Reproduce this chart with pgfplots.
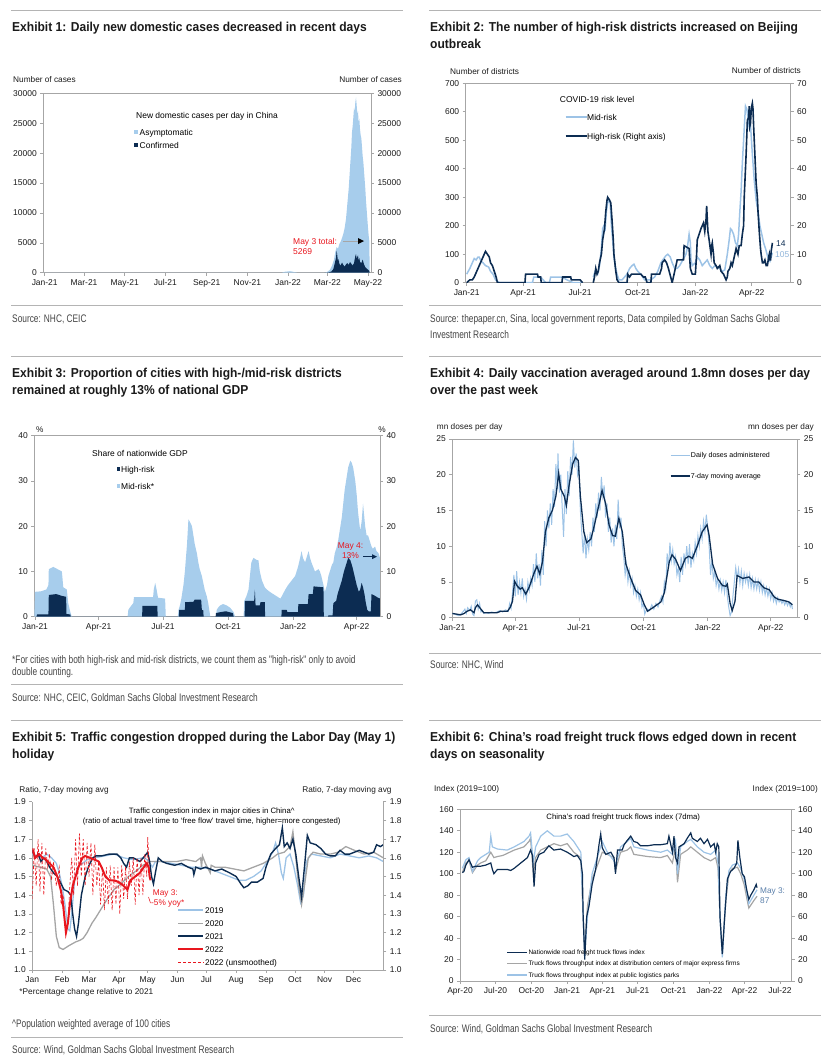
\documentclass[border=0pt]{standalone}
\usepackage{fontspec}
\setmainfont{Liberation Sans}
\newfontfamily\srcfont{Liberation Sans}[FakeStretch=0.76]
\newfontfamily\ttlfont{Liberation Sans}[FakeStretch=0.93]
\usepackage{pgfplots}
\pgfplotsset{compat=1.18}
\definecolor{navy}{HTML}{0C2C52}
\definecolor{lblue}{HTML}{A7CDEC}
\definecolor{lline}{HTML}{9DC3E6}
\definecolor{mgray}{HTML}{A5A5A5}
\definecolor{axgray}{HTML}{A6A6A6}
\definecolor{rulegray}{HTML}{B4B4B4}
\definecolor{gsred}{HTML}{E8161E}
\definecolor{steel}{HTML}{5A7FAA}
\definecolor{txt}{HTML}{1A1A1A}
\definecolor{srcc}{HTML}{444444}
\newcommand\ttl{\ttlfont\bfseries\fontsize{13}{15}\selectfont\color{txt}}
\newcommand\src{\srcfont\fontsize{11}{13}\selectfont\color{srcc}}
\newcommand\lab{\fontsize{8.3}{10}\selectfont\color{txt}}
\pgfplotsset{
  gsbase/.style={scale only axis, anchor=north west,
    axis line style={draw=axgray, line width=0.7bp},
    tick style={draw=axgray, line width=0.6bp},
    major tick length=3bp, tick align=outside,
    ticklabel style={font=\fontsize{8.5}{10}\selectfont, text=txt},
    /pgf/number format/assume math mode=true,
    /pgf/number format/1000 sep={},
    scaled ticks=false},
  gs/.style={gsbase, tick pos=left},
  gsr/.style={gsbase, axis x line=none, axis y line*=right, xtick=\empty},
}
\begin{document}
\begin{tikzpicture}
\useasboundingbox (0,0) rectangle (829bp,-1057bp);
\begin{scope}[x=1bp,y=-1bp]
% ---------- rules ----------
\draw[rulegray, line width=1bp] (11,10)--(403,10) (11,305)--(403,305);
\draw[rulegray, line width=1bp] (429,10)--(821,10) (429,305)--(821,305);
\draw[rulegray, line width=1bp] (11,356)--(403,356) (11,684.3)--(403,684.3);
\draw[rulegray, line width=1bp] (429,356)--(821,356) (429,653.3)--(821,653.3);
\draw[rulegray, line width=1bp] (11,720)--(403,720) (11,1037.3)--(403,1037.3);
\draw[rulegray, line width=1bp] (429,720)--(821,720) (429,1015)--(821,1015);
% ---------- titles ----------
\node[anchor=base west, inner sep=0] at (12,31.5) {\ttl Exhibit 1: Daily new domestic cases decreased in recent days};
\node[anchor=base west, inner sep=0] at (430,31.5) {\ttl Exhibit 2: The number of high-risk districts increased on Beijing};
\node[anchor=base west, inner sep=0] at (430,48.3) {\ttl outbreak};
\node[anchor=base west, inner sep=0] at (12,377.7) {\ttl Exhibit 3: Proportion of cities with high-/mid-risk districts};
\node[anchor=base west, inner sep=0] at (12,394.5) {\ttl remained at roughly 13\% of national GDP};
\node[anchor=base west, inner sep=0] at (430,377.7) {\ttl Exhibit 4: Daily vaccination averaged around 1.8mn doses per day};
\node[anchor=base west, inner sep=0] at (430,394.5) {\ttl over the past week};
\node[anchor=base west, inner sep=0] at (12,741.7) {\ttl Exhibit 5: Traffic congestion dropped during the Labor Day (May 1)};
\node[anchor=base west, inner sep=0] at (12,758.3) {\ttl holiday};
\node[anchor=base west, inner sep=0] at (430,741.7) {\ttl Exhibit 6: China’s road freight truck flows edged down in recent};
\node[anchor=base west, inner sep=0] at (430,758.3) {\ttl days on seasonality};
% ---------- sources ----------
\node[anchor=base west, inner sep=0] at (12,322) {\src Source: NHC, CEIC};
\node[anchor=base west, inner sep=0] at (430,322) {\src Source: thepaper.cn, Sina, local government reports, Data compiled by Goldman Sachs Global};
\node[anchor=base west, inner sep=0] at (430,338) {\src Investment Research};
\node[anchor=base west, inner sep=0] at (12,663.5) {\src *For cities with both high-risk and mid-risk districts, we count them as "high-risk" only to avoid};
\node[anchor=base west, inner sep=0] at (12,675) {\src double counting.};
\node[anchor=base west, inner sep=0] at (12,701.5) {\src Source: NHC, CEIC, Goldman Sachs Global Investment Research};
\node[anchor=base west, inner sep=0] at (430,668.5) {\src Source: NHC, Wind};
\node[anchor=base west, inner sep=0] at (12,1027) {\src \textasciicircum Population weighted average of 100 cities};
\node[anchor=base west, inner sep=0] at (12,1053.5) {\src Source: Wind, Goldman Sachs Global Investment Research};
\node[anchor=base west, inner sep=0] at (430,1032) {\src Source: Wind, Goldman Sachs Global Investment Research};
\node[anchor=base west, inner sep=0] at (19.3,994.5) {\lab *Percentage change relative to 2021};
% ---------- unit labels ----------
\node[anchor=base west, inner sep=0] at (13,82) {\lab Number of cases};
\node[anchor=base east, inner sep=0] at (402,82) {\lab Number of cases};
\node[anchor=base west, inner sep=0] at (450,74) {\lab Number of districts};
\node[anchor=base east, inner sep=0] at (801,73.5) {\lab Number of districts};
\node[anchor=base west, inner sep=0] at (36,432) {\lab \%};
\node[anchor=base east, inner sep=0] at (386,432) {\lab \%};
\node[anchor=base west, inner sep=0] at (436.7,429) {\lab mn doses per day};
\node[anchor=base east, inner sep=0] at (814,429) {\lab mn doses per day};
\node[anchor=base west, inner sep=0] at (19.3,792.3) {\lab Ratio, 7-day moving avg};
\node[anchor=base east, inner sep=0] at (391.7,792.3) {\lab Ratio, 7-day moving avg};
\node[anchor=base west, inner sep=0] at (434,791.7) {\lab Index (2019=100)};
\node[anchor=base east, inner sep=0] at (818,791.7) {\lab Index (2019=100)};
\end{scope}

% ================= Exhibit 1 =================
\begin{axis}[gs, at={(43.3bp,-93.3bp)}, width=327.7bp, height=179.4bp,
  xmin=-2.1, xmax=489.5, ymin=0, ymax=30000,
  ytick={0,5000,...,30000},
  xtick={0,59,120,181,243,304,365,424,485},
  xticklabels={Jan-21,Mar-21,May-21,Jul-21,Sep-21,Nov-21,Jan-22,Mar-22,May-22}]
\addplot[draw=none, fill=lblue] coordinates {(-2,0)(355,0)(360,150)(368,250)(375,100)(380,0)(420,0)(424,150)(428,500)(431,1200)(434,2200)(436,3500)(438,4300)(440,4000)(442,4800)(444,5200)(446,5800)(448,6500)(450,7500)(452,9000)(454,11500)(456,14000)(458,17500)(460,21000)(461,23500)(462,24500)(463,26000)(464,27500)(465,27000)(466,28500)(467,29300)(468,28000)(469,26500)(470,27000)(471,25000)(472,25800)(473,24000)(474,23000)(475,22500)(476,21000)(477,19500)(478,18500)(479,17000)(480,15500)(481,14000)(482,12000)(483,10500)(484,9000)(485,7500)(486,6200)(487,5269)(487.5,0)} \closedcycle;
\addplot[draw=none, fill=navy] coordinates {(420,0)(426,50)(430,200)(433,600)(435,1500)(437,2500)(438,3700)(439,2800)(440,1800)(441,2300)(442,1500)(444,1200)(446,1700)(448,1300)(450,1000)(452,1400)(454,1600)(456,1300)(458,1800)(460,1500)(462,1200)(464,1600)(466,2800)(467,3100)(468,2300)(469,2700)(470,2900)(471,2000)(472,2500)(473,1800)(475,1600)(477,2200)(479,1400)(481,900)(483,700)(485,500)(487,300)(487.5,0)} \closedcycle;
\end{axis}
\begin{axis}[gsr, at={(43.3bp,-93.3bp)}, width=327.7bp, height=179.4bp,
  xmin=0, xmax=1, ymin=0, ymax=30000, ytick={0,5000,...,30000}]
\end{axis}

% ================= Exhibit 2 =================
\begin{axis}[gs, at={(465.7bp,-83.3bp)}, width=325bp, height=199.4bp,
  xmin=-1.6, xmax=517.2, ymin=0, ymax=700, ytick={0,100,...,700},
  xtick={0,90,181,273,365,455},
  xticklabels={Jan-21,Apr-21,Jul-21,Oct-21,Jan-22,Apr-22}, unbounded coords=jump]
\addplot[lline, line width=1.5bp] coordinates {(0,30)(5,50)(9,70)(12,85)(15,80)(18,90)(20,90)(23,75)(26,70)(30,60)(35,55)(38,40)(42,30)(46,10)(52,0)(105,0)(107,20)(118,20)(126,0)(132,0)(134,20)(152,20)(160,10)(170,0)(185,0)(190,nan)(202,20)(205,40)(209,30)(212,60)(215,120)(217,190)(219,200)(221,190)(223,250)(225,280)(227,290)(229,280)(231,200)(233,150)(235,90)(237,60)(240,30)(243,10)(248,10)(252,20)(256,30)(260,50)(264,60)(267,65)(270,50)(273,40)(278,30)(284,10)(288,10)(294,10)(300,20)(305,40)(310,70)(313,80)(318,95)(321,100)(325,90)(328,70)(332,50)(336,50)(340,60)(345,80)(350,100)(352,120)(355,170)(357,140)(358,80)(360,60)(365,70)(368,90)(372,80)(376,60)(380,70)(384,80)(388,60)(392,50)(396,60)(400,55)(404,50)(408,40)(412,45)(416,100)(419,150)(421,190)(423,185)(426,170)(429,140)(432,130)(434,170)(436,250)(438,320)(440,420)(442,500)(444,580)(445,620)(447,610)(449,580)(450,560)(452,590)(454,520)(456,450)(459,360)(462,290)(465,250)(468,200)(471,170)(474,140)(477,120)(480,95)(482,80)(484,75)(486,90)(488,105)};
\end{axis}
\begin{axis}[gsr, at={(465.7bp,-83.3bp)}, width=325bp, height=199.4bp,
  xmin=-1.6, xmax=517.2, ymin=0, ymax=70, ytick={0,10,...,70}, unbounded coords=jump]
\addplot[navy, line width=1.6bp] coordinates {(0,0)(5,1)(9,1)(12,2)(16,4)(20,6)(24,8)(28,10)(30,11)(33,10)(36,9)(38,7)(41,6)(44,4)(47,2)(49,0)(93,0)(94,3)(113,3)(114,2)(118,2)(119,0)(152,0)(153,2)(166,2)(167,1)(181,1)(185,0)(190,nan)(202,0)(204,2)(206,5)(208,3)(210,4)(212,7)(215,10)(217,15)(220,19)(222,25)(224,29)(225,30)(228,29)(230,28)(232,22)(234,15)(235,10)(238,4)(240,1)(243,0)(256,0)(257,3)(260,2)(263,3)(267,3)(278,3)(282,2)(285,2)(288,0)(294,0)(295,3)(308,3)(311,5)(312,7)(316,8)(319,7)(322,5)(328,0)(330,2)(333,5)(336,8)(346,8)(347,13)(355,12)(357,5)(360,3)(365,3)(367,10)(368,15)(371,17)(374,19)(376,20)(378,21)(380,18)(382,22)(383,27)(385,18)(387,15)(390,10)(391,13)(392,14)(394,10)(395,7)(398,6)(400,5)(404,6)(406,4)(410,3)(414,1)(416,2)(417,4)(420,5)(422,7)(424,6)(427,9)(429,11)(430,12)(433,10)(435,13)(438,13)(440,17)(442,20)(443,30)(446,45)(448,57)(450,58)(451,62)(452,55)(453,56)(454,60)(455,62)(456,63)(457,61)(458,55)(460,45)(462,35)(464,30)(465,25)(467,18)(469,12)(470,10)(472,7)(474,7)(476,8)(478,6)(480,6)(482,9)(483,10)(484,8)(485,8)(486,11)(488,14)};
\end{axis}

% ================= Exhibit 3 =================
\begin{axis}[gs, at={(34.3bp,-435.7bp)}, width=345.7bp, height=181bp,
  xmin=-1, xmax=488, ymin=0, ymax=40, ytick={0,10,...,40},
  xtick={0,90,181,273,365,455},
  xticklabels={Jan-21,Apr-21,Jul-21,Oct-21,Jan-22,Apr-22}]
\addplot[draw=none, fill=lblue] coordinates {(-1,0)(0,5.5)(8,5.6)(16,6)(19,7)(19.5,10.5)(26,11)(32,10.5)(38,10)(40,6.5)(45,6)(47,3)(50,1)(52,0)(131,0)(132,1.5)(134,2)(139,3)(140,4.3)(167,4.3)(168,6)(170,7.5)(172,6)(174,4.2)(184,4)(185,0)(202,0)(203,1.5)(205,2.5)(207,4)(210,7)(212,10)(215,16)(217,21.5)(219,21)(222,20)(224,18)(226,16)(229,14)(231,12)(233,10.5)(236,9)(238,7.5)(240,6)(243,4.5)(245,3)(248,0)(256,0)(257,1.5)(259,2)(262,2.5)(266,2.8)(271,2.5)(276,2)(281,1)(283,0)(295,0)(296,3.5)(299,4.5)(302,6)(304,9)(306,12)(309,13)(311,12.8)(314,12.5)(316,12.5)(318,10)(321,8)(325,6.5)(328,6)(332,5.5)(337,5)(342,4.5)(347,4)(349,4.5)(354,6)(358,7)(363,8)(368,9)(370,10)(372,11)(375,13)(377,14.5)(379,13)(382,12)(384,13)(387,14.5)(389,13)(391,12)(396,10)(401,10.5)(403,10)(405,9)(408,7)(410,5.5)(413,7)(415,9)(417,10)(420,11.5)(422,12)(424,14)(427,15.5)(429,17)(431,19)(434,22)(436,25)(438,28)(441,31)(443,33)(446,34.5)(448,34)(450,33)(453,30)(455,27)(457,23)(460,19)(462,21)(464,25)(467,20)(469,18)(471,18)(474,16.5)(476,15.5)(478,15)(481,15.5)(483,14.5)(486,14)(488,13)} \closedcycle;
\addplot[draw=none, fill=navy] coordinates {(2,0)(3,0.5)(19,0.5)(19.5,4.8)(30,5)(38,4.6)(44,4.4)(44.5,0.6)(50,0.5)(50.5,0)(151.5,0)(152,2.4)(173,2.4)(173.5,0)(203.5,0)(204,1.5)(212,1.5)(212.5,3.2)(224,3.3)(226,3.8)(235,3.8)(236,1.5)(238,1.4)(238.5,0)(255.5,0)(256,0.8)(262,1.0)(270,1.2)(280,0.8)(281,0)(296.5,0)(297,3.5)(310,3.5)(311,6)(312,2.5)(318,2.5)(319,3.2)(325,3.2)(325.5,0)(348.5,0)(349,1.5)(356,1.5)(357,1.0)(372,1.0)(372.5,2.8)(386,2.8)(387,5)(393,5)(394,6.7)(408,6.5)(408.5,0)(414.5,0)(415,0.3)(421,0.3)(422,3)(426,3.5)(428,5)(431,6.5)(434,8)(437,10)(440,11.5)(443,13)(446,12.5)(449,11)(452,9)(455,7)(458,5.5)(460,6)(462,7.5)(464,6.5)(466,5)(468,3)(470,1.5)(472,1.2)(475,1.2)(476,5)(480,4.7)(484,4.3)(488,4)(488.5,0)} \closedcycle;
\end{axis}
\begin{axis}[gsr, at={(34.3bp,-435.7bp)}, width=345.7bp, height=181bp,
  xmin=0, xmax=1, ymin=0, ymax=40, ytick={0,10,...,40}]
\end{axis}

% ================= Exhibit 4 =================
\begin{axis}[gs, at={(452.3bp,-439bp)}, width=345bp, height=178.7bp,
  xmin=0, xmax=493, ymin=0, ymax=25, ytick={0,5,...,25},
  xtick={0,90,181,273,365,455},
  xticklabels={Jan-21,Apr-21,Jul-21,Oct-21,Jan-22,Apr-22}]
\addplot[lline, line width=1bp] coordinates {(0,0.6)(3,0.5)(6,0.4)(9,0.3)(12,0.5)(15,0.8)(18,1.2)(20,0.6)(22,1.4)(25,1.0)(27,1.6)(29,0.5)(31,0.3)(33,2.3)(35,2.5)(37,1.2)(39,2.0)(41,0.8)(43,1.0)(45,0.6)(48,0.7)(52,0.6)(56,0.8)(60,0.7)(64,0.8)(68,1.0)(72,0.8)(76,1.1)(80,0.9)(82,2.0)(84,1.3)(86,3.5)(88,6.0)(90,3.0)(92,6.5)(94,3.2)(96,5.0)(98,3.5)(100,5.5)(102,3.0)(104,4.0)(106,2.6)(108,5.0)(110,3.8)(112,5.5)(114,4.5)(116,7.5)(118,5.0)(120,9.0)(122,5.5)(124,7.5)(126,4.5)(128,9.5)(130,6.0)(132,13.5)(134,10.0)(136,15.0)(138,12.5)(140,16.0)(142,13.0)(144,18.0)(146,15.5)(148,21.5)(150,18.0)(151,23.0)(153,17.5)(155,20.0)(157,15.5)(159,11.3)(161,18.0)(163,14.5)(165,20.5)(167,17.0)(169,22.5)(171,20.0)(173,24.8)(175,21.0)(177,23.0)(179,20.0)(181,21.0)(183,15.0)(185,12.0)(187,9.0)(189,12.0)(191,8.3)(193,11.0)(195,9.5)(197,12.0)(199,10.0)(201,14.0)(203,12.0)(205,16.0)(207,14.0)(209,17.5)(211,15.0)(213,19.7)(215,17.0)(217,18.5)(219,14.0)(221,16.0)(223,12.0)(225,14.0)(227,10.5)(229,12.5)(231,10.0)(233,13.0)(235,11.0)(237,16.5)(239,12.5)(241,14.0)(243,10.0)(245,8.5)(247,6.0)(249,7.5)(251,5.0)(253,6.5)(255,4.5)(257,5.5)(259,3.5)(261,4.5)(263,3.0)(265,4.0)(267,2.5)(269,3.5)(271,1.5)(273,2.0)(275,0.5)(277,1.0)(279,1.2)(282,1.0)(285,1.8)(288,1.2)(291,2.0)(294,1.5)(297,2.5)(299,3.0)(301,2.2)(303,5.0)(305,4.0)(307,9.0)(309,7.0)(311,10.5)(313,8.0)(315,9.5)(317,7.5)(319,8.5)(321,6.0)(323,7.0)(325,5.0)(327,8.5)(329,6.0)(331,9.0)(333,7.5)(335,10.0)(337,7.5)(339,10.3)(341,7.0)(343,9.0)(345,8.0)(347,10.5)(349,9.0)(351,11.5)(353,10.0)(355,12.5)(357,11.0)(359,13.5)(361,12.0)(363,14.4)(365,12.5)(367,10.0)(369,6.0)(371,8.0)(373,5.5)(375,6.5)(377,4.5)(379,5.5)(381,4.0)(383,5.2)(385,3.8)(387,5.0)(389,3.5)(391,5.3)(393,3.0)(395,1.5)(397,0.3)(399,0.8)(401,3.0)(403,5.0)(405,7.0)(407,5.5)(409,6.8)(411,4.8)(413,6.5)(415,4.5)(417,6.2)(419,5.0)(421,6.0)(423,4.5)(425,6.0)(427,4.2)(429,5.5)(431,4.0)(433,5.3)(435,4.0)(437,5.2)(439,3.8)(441,5.0)(443,3.5)(445,4.5)(447,3.2)(449,4.2)(451,3.0)(453,4.0)(455,2.6)(457,3.5)(459,2.3)(461,3.0)(463,2.0)(465,2.8)(467,2.2)(469,2.5)(471,2.0)(473,2.4)(475,1.8)(477,2.3)(479,1.7)(481,2.2)(483,1.5)(485,1.9)(486,1.2)};
\addplot[navy, line width=1.3bp] coordinates {(0,0.6)(12,0.4)(17,0.6)(21,0.9)(26,1.1)(31,0.7)(33,1.4)(36,1.8)(40,1.3)(45,0.7)(64,0.7)(69,0.9)(79,0.9)(83,1.5)(86,2.3)(89,5.1)(93,4.4)(97,4.0)(100,4.2)(105,3.3)(110,4.3)(117,6.3)(121,7.2)(125,6.1)(129,7.9)(133,12)(138,14)(143,15.0)(148,17)(152,20.2)(155,18)(160,17)(163,15.7)(167,18.6)(172,21.5)(176,22.4)(180,22.0)(183,17)(188,12)(192,10.5)(198,11)(202,12.5)(210,16)(214,17.8)(219,16)(224,13)(229,11.5)(233,11.4)(238,13.9)(243,12)(248,7.5)(255,5.5)(262,3.8)(269,3.2)(274,1.9)(279,0.9)(288,1.5)(298,2.2)(303,3.5)(310,7.8)(314,8.8)(319,8.2)(326,6.6)(333,8.3)(338,8.6)(343,8.3)(350,10)(357,12)(364,13)(367,11.5)(372,7.5)(379,5.5)(386,4.5)(391,4.4)(393,4.7)(397,2.0)(400,1.0)(404,2.3)(407,5.9)(415,5.5)(424,5.7)(431,5.0)(438,5.0)(445,4.2)(453,3.9)(460,2.9)(465,2.6)(474,2.4)(481,2.2)(486,1.8)};
\end{axis}
\begin{axis}[gsr, at={(452.3bp,-439bp)}, width=345bp, height=178.7bp,
  xmin=0, xmax=1, ymin=0, ymax=25, ytick={0,5,...,25}]
\end{axis}

% ================= Exhibit 5 =================
\begin{axis}[gsbase, tick pos=left, axis x line*=bottom, axis y line*=left,
  at={(32.3bp,-801.7bp)}, width=351bp, height=168.3bp,
  xmin=0, xmax=365, ymin=1, ymax=1.9,
  ytick={1,1.1,1.2,1.3,1.4,1.5,1.6,1.7,1.8,1.9},
  yticklabel style={/pgf/number format/.cd, fixed, fixed zerofill, precision=1},
  xtick={0,31,59,90,120,151,181,212,243,273,304,334},
  xticklabels={Jan,Feb,Mar,Apr,May,Jun,Jul,Aug,Sep,Oct,Nov,Dec}]
\addplot[lline, line width=1.3bp] coordinates {(0,1.62)(5,1.61)(10,1.60)(15,1.62)(20,1.60)(25,1.57)(28,1.52)(31,1.45)(34,1.35)(37,1.22)(39,1.21)(41,1.30)(44,1.48)(47,1.55)(52,1.57)(57,1.59)(65,1.60)(75,1.61)(85,1.62)(95,1.60)(105,1.59)(115,1.60)(120,1.59)(125,1.55)(128,1.58)(135,1.58)(145,1.57)(155,1.56)(165,1.55)(175,1.55)(185,1.54)(195,1.52)(205,1.50)(215,1.48)(222,1.48)(230,1.50)(238,1.53)(243,1.57)(250,1.63)(253,1.68)(256,1.62)(259,1.52)(261,1.49)(264,1.60)(268,1.62)(272,1.55)(276,1.45)(279,1.36)(282,1.40)(285,1.58)(290,1.62)(300,1.61)(310,1.60)(320,1.62)(330,1.61)(340,1.60)(350,1.61)(358,1.60)(365,1.58)};
\addplot[mgray, line width=1.3bp] coordinates {(0,1.56)(8,1.55)(15,1.54)(19,1.50)(22,1.35)(25,1.18)(28,1.12)(32,1.11)(38,1.13)(45,1.15)(50,1.16)(53,1.17)(57,1.20)(62,1.25)(66,1.28)(72,1.33)(78,1.38)(85,1.43)(92,1.46)(100,1.50)(108,1.53)(115,1.56)(122,1.58)(130,1.58)(140,1.58)(150,1.58)(160,1.59)(170,1.58)(175,1.60)(176,1.55)(177,1.61)(180,1.57)(185,1.52)(186,1.56)(190,1.55)(200,1.55)(210,1.54)(220,1.53)(230,1.55)(240,1.57)(250,1.60)(255,1.62)(262,1.63)(268,1.66)(271,1.74)(274,1.60)(277,1.45)(280,1.35)(283,1.45)(287,1.60)(292,1.63)(300,1.62)(310,1.62)(318,1.63)(326,1.66)(335,1.64)(345,1.62)(355,1.63)(365,1.60)};
\addplot[navy, line width=1.4bp] coordinates {(0,1.64)(3,1.60)(6,1.62)(9,1.58)(12,1.60)(15,1.58)(18,1.55)(22,1.52)(26,1.50)(30,1.46)(33,1.43)(37,1.42)(40,1.40)(42,1.30)(44,1.22)(46,1.18)(48,1.25)(51,1.40)(55,1.50)(59,1.56)(63,1.60)(66,1.61)(72,1.61)(80,1.62)(88,1.62)(92,1.60)(95,1.57)(98,1.55)(101,1.60)(105,1.60)(112,1.58)(117,1.61)(120,1.63)(122,1.58)(124,1.50)(126,1.46)(128,1.52)(131,1.60)(135,1.58)(140,1.57)(148,1.56)(155,1.57)(162,1.55)(167,1.54)(168,1.51)(170,1.55)(175,1.54)(180,1.55)(185,1.54)(190,1.53)(197,1.54)(205,1.52)(212,1.50)(217,1.46)(220,1.44)(224,1.45)(228,1.47)(234,1.47)(240,1.49)(243,1.55)(248,1.62)(253,1.65)(257,1.67)(260,1.76)(262,1.66)(265,1.68)(268,1.65)(271,1.70)(274,1.62)(277,1.50)(280,1.39)(283,1.55)(286,1.72)(289,1.68)(295,1.67)(300,1.65)(305,1.62)(310,1.61)(315,1.61)(320,1.64)(325,1.62)(330,1.62)(335,1.63)(340,1.64)(345,1.63)(350,1.62)(355,1.63)(358,1.67)(362,1.66)(365,1.67)};
\addplot[gsred, line width=0.6bp, densely dashed] coordinates {(0,1.38)(2,1.65)(4,1.45)(6,1.7)(8,1.42)(10,1.68)(12,1.4)(14,1.65)(16,1.55)(18,1.62)(20,1.48)(22,1.58)(25,1.45)(28,1.55)(30,1.35)(32,1.4)(35,1.2)(37,1.25)(39,1.45)(41,1.6)(43,1.4)(45,1.7)(47,1.45)(49,1.73)(51,1.5)(53,1.7)(55,1.45)(57,1.68)(59,1.5)(61,1.68)(63,1.4)(65,1.67)(67,1.45)(69,1.58)(71,1.35)(73,1.55)(75,1.32)(77,1.55)(79,1.35)(81,1.56)(83,1.32)(85,1.55)(87,1.35)(89,1.55)(91,1.3)(93,1.56)(95,1.38)(97,1.55)(99,1.38)(101,1.58)(103,1.45)(105,1.6)(107,1.35)(109,1.6)(111,1.4)(113,1.6)(115,1.4)(117,1.62)(119,1.5)(120,1.71)(122,1.5)(123,1.48)};
\addplot[gsred, line width=2bp] coordinates {(0,1.65)(3,1.60)(7,1.62)(11,1.60)(14,1.59)(18,1.57)(22,1.55)(26,1.50)(30,1.42)(32,1.35)(34,1.25)(35,1.20)(37,1.25)(39,1.35)(42,1.45)(45,1.50)(48,1.55)(52,1.60)(55,1.61)(60,1.60)(65,1.59)(69,1.58)(72,1.55)(76,1.50)(80,1.48)(85,1.48)(90,1.47)(95,1.45)(99,1.43)(102,1.48)(107,1.50)(112,1.52)(116,1.55)(119,1.57)(121,1.55)(122,1.50)(123,1.48)};
\end{axis}
\begin{axis}[gsr, at={(32.3bp,-801.7bp)}, width=351bp, height=168.3bp,
  xmin=0, xmax=1, ymin=1, ymax=1.9,
  ytick={1,1.1,1.2,1.3,1.4,1.5,1.6,1.7,1.8,1.9},
  yticklabel style={/pgf/number format/.cd, fixed, fixed zerofill, precision=1}]
\end{axis}

% ================= Exhibit 6 =================
\begin{axis}[gs, at={(460bp,-809.3bp)}, width=331.7bp, height=171.7bp,
  xmin=0, xmax=851, ymin=0, ymax=160, ytick={0,20,...,160},
  xtick={0,91,183,275,365,456,548,640,730,821},
  xticklabels={Apr-20,Jul-20,Oct-20,Jan-21,Apr-21,Jul-21,Oct-21,Jan-22,Apr-22,Jul-22}]
\addplot[mgray, line width=1.2bp] coordinates {(6,101)(15,110)(23,112)(32,101)(45,108)(53,110)(66,112)(79,120)(87,115)(96,116)(110,117)(139,122)(164,125)(177,130)(181,133)(188,100)(194,115)(207,122)(224,125)(241,128)(258,126)(275,128)(292,120)(310,115)(316,60)(320,30)(327,70)(339,95)(357,112)(365,120)(378,118)(395,115)(399,103)(412,120)(429,122)(438,125)(446,118)(481,116)(515,115)(532,117)(545,110)(553,125)(558,92)(566,118)(583,122)(592,125)(609,120)(626,115)(643,112)(656,115)(662,105)(667,60)(673,25)(682,75)(690,100)(699,105)(712,106)(720,100)(729,90)(737,75)(741,68)(754,75)(762,79)};
\addplot[lline, line width=1.2bp] coordinates {(6,105)(15,113)(23,115)(32,102)(45,112)(53,115)(75,120)(79,135)(83,125)(96,123)(121,122)(139,125)(164,130)(177,135)(181,138)(188,110)(194,125)(207,135)(224,140)(241,135)(258,135)(275,137)(292,130)(310,120)(316,60)(320,25)(327,60)(339,100)(352,115)(365,130)(378,120)(395,112)(399,108)(412,125)(429,130)(438,133)(446,125)(481,122)(515,120)(532,122)(545,118)(553,130)(558,100)(566,125)(583,130)(592,132)(609,125)(626,120)(643,118)(656,122)(662,110)(667,60)(673,22)(682,80)(690,103)(699,108)(712,110)(720,105)(729,95)(737,80)(741,72)(754,80)(762,85)};
\addplot[navy, line width=1.2bp] coordinates {(6,101)(10,102)(15,108)(23,113)(27,110)(32,106)(40,107)(53,107)(66,108)(79,110)(83,104)(87,100)(96,104)(121,104)(130,103)(139,105)(156,110)(173,115)(181,122)(186,117)(190,88)(194,110)(203,118)(215,120)(228,126)(241,122)(258,123)(275,120)(284,118)(292,116)(301,117)(310,112)(314,100)(316,60)(320,20)(325,60)(331,70)(339,90)(348,104)(357,128)(361,137)(365,124)(374,118)(387,120)(395,115)(399,100)(404,122)(416,122)(421,127)(429,131)(438,135)(446,130)(455,129)(463,126)(481,126)(498,127)(515,127)(532,128)(536,135)(545,120)(549,135)(553,115)(558,110)(562,125)(575,128)(583,133)(592,138)(596,133)(609,130)(617,133)(626,128)(635,132)(643,125)(652,128)(656,120)(660,128)(664,125)(667,60)(673,25)(679,60)(686,95)(694,102)(703,105)(710,110)(713,131)(718,115)(724,100)(730,97)(735,86)(741,76)(746,80)(754,85)(760,90)(762,87)};
\end{axis}
\begin{axis}[gsr, at={(460bp,-809.3bp)}, width=331.7bp, height=171.7bp,
  xmin=0, xmax=1, ymin=0, ymax=160, ytick={0,20,...,160}]
\end{axis}

% ---------- legends and annotations ----------
\begin{scope}[x=1bp,y=-1bp]
% Ex1
\node[anchor=base west, inner sep=0] at (136,118) {\fontsize{8.5}{10}\selectfont New domestic cases per day in China};
\fill[lblue] (134.3,130.2) rectangle (138,133.9);
\node[anchor=base west, inner sep=0] at (139.5,135) {\fontsize{8.5}{10}\selectfont Asymptomatic};
\fill[navy] (134.3,143.2) rectangle (138,146.9);
\node[anchor=base west, inner sep=0] at (139.5,148) {\fontsize{8.5}{10}\selectfont Confirmed};
\node[anchor=base west, inner sep=0, text=gsred] at (293,244) {\fontsize{8.5}{10}\selectfont May 3 total:};
\node[anchor=base west, inner sep=0, text=gsred] at (293,254) {\fontsize{8.5}{10}\selectfont 5269};
\draw[axgray, line width=0.8bp] (343,241)--(360,241);
\fill[black] (358,238)--(364,241)--(358,244)--cycle;
% Ex2
\node[anchor=base west, inner sep=0] at (559.7,102) {\fontsize{8.5}{10}\selectfont COVID-19 risk level};
\draw[lline, line width=1.5bp] (565.7,117)--(586.7,117);
\node[anchor=base west, inner sep=0] at (587,120) {\fontsize{8.5}{10}\selectfont Mid-risk};
\draw[navy, line width=1.6bp] (565.7,136)--(586.7,136);
\node[anchor=base west, inner sep=0] at (587,139) {\fontsize{8.5}{10}\selectfont High-risk (Right axis)};
\node[anchor=base west, inner sep=0, text=navy] at (776,246.7) {\fontsize{8.5}{10}\selectfont 14};
\node[anchor=base west, inner sep=0, text=lline!80!steel] at (775,257) {\fontsize{8.5}{10}\selectfont 105};
% Ex3
\node[anchor=base west, inner sep=0] at (92,456) {\fontsize{8.5}{10}\selectfont Share of nationwide GDP};
\fill[navy] (116.5,467.2) rectangle (120,470.8);
\node[anchor=base west, inner sep=0] at (121,472) {\fontsize{8.5}{10}\selectfont High-risk};
\fill[lblue] (116.5,483.9) rectangle (120,487.5);
\node[anchor=base west, inner sep=0] at (121,489) {\fontsize{8.5}{10}\selectfont Mid-risk*};
\node[anchor=base, inner sep=0, text=gsred] at (350.5,548.7) {\fontsize{8.5}{10}\selectfont May 4:};
\node[anchor=base, inner sep=0, text=gsred] at (350.5,558.5) {\fontsize{8.5}{10}\selectfont 13\%};
\draw[navy, line width=0.8bp] (363,556.7)--(373,556.7);
\fill[navy] (372,554.2)--(377,556.7)--(372,559.2)--cycle;
% Ex4
\draw[lline, line width=1bp] (670.7,455.3)--(690,455.3);
\node[anchor=base west, inner sep=0] at (690.7,457.9) {\fontsize{7.1}{8}\selectfont Daily doses administered};
\draw[navy, line width=1.3bp] (670.7,476)--(690,476);
\node[anchor=base west, inner sep=0] at (690.7,478.6) {\fontsize{7.1}{8}\selectfont 7-day moving average};
% Ex5
\node[anchor=base, inner sep=0] at (211.7,813.5) {\fontsize{7.8}{9}\selectfont Traffic congestion index in major cities in China\textasciicircum};
\node[anchor=base, inner sep=0] at (211.7,823.5) {\fontsize{7.8}{9}\selectfont (ratio of actual travel time to ‘free flow’ travel time, higher=more congested)};
\draw[lline, line width=1.3bp] (178.3,910)--(203.3,910);
\node[anchor=base west, inner sep=0] at (205,913) {\fontsize{8.3}{10}\selectfont 2019};
\draw[mgray, line width=1.3bp] (178.3,923.3)--(203.3,923.3);
\node[anchor=base west, inner sep=0] at (205,926.3) {\fontsize{8.3}{10}\selectfont 2020};
\draw[navy, line width=1.4bp] (178.3,936)--(203.3,936);
\node[anchor=base west, inner sep=0] at (205,939) {\fontsize{8.3}{10}\selectfont 2021};
\draw[gsred, line width=2bp] (178.3,949)--(203.3,949);
\node[anchor=base west, inner sep=0] at (205,952) {\fontsize{8.3}{10}\selectfont 2022};
\draw[gsred, line width=0.6bp, densely dashed] (178.3,962.7)--(203.3,962.7);
\node[anchor=base west, inner sep=0] at (205,965.7) {\fontsize{8.3}{10}\selectfont 2022 (unsmoothed)};
\node[anchor=base west, inner sep=0, text=gsred] at (152.7,895.5) {\fontsize{8.3}{10}\selectfont May 3:};
\node[anchor=base west, inner sep=0, text=gsred] at (151,905.5) {\fontsize{8.3}{10}\selectfont -5\% yoy*};
\draw[gsred, line width=0.5bp] (150.5,903)--(148.5,897);
% Ex6
\node[anchor=base, inner sep=0] at (623.3,819.5) {\fontsize{7.8}{9}\selectfont China's road freight truck flows index (7dma)};
\draw[navy, line width=1.2bp] (507.3,952.3)--(527.3,952.3);
\node[anchor=base west, inner sep=0] at (528.3,954.6) {\fontsize{6.5}{7.5}\selectfont Nationwide road freight truck flows index};
\draw[mgray, line width=1.2bp] (507.3,963.3)--(527.3,963.3);
\node[anchor=base west, inner sep=0] at (528.3,965.6) {\fontsize{6.5}{7.5}\selectfont Truck flows throughput index at distribution centers of major express firms};
\draw[lline, line width=1.2bp] (507.3,975)--(527.3,975);
\node[anchor=base west, inner sep=0] at (528.3,977.3) {\fontsize{6.5}{7.5}\selectfont Truck flows throughput index at public logistics parks};
\node[anchor=base west, inner sep=0, text=steel] at (760,893) {\fontsize{8.3}{10}\selectfont May 3:};
\node[anchor=base west, inner sep=0, text=steel] at (760,903) {\fontsize{8.3}{10}\selectfont 87};
\end{scope}
\end{tikzpicture}
\end{document}
